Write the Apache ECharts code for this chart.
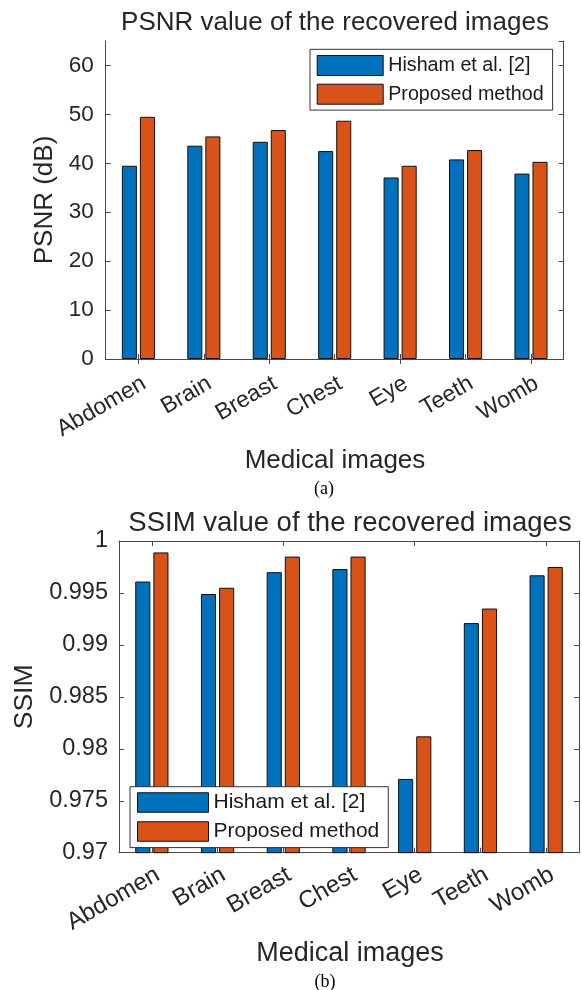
<!DOCTYPE html>
<html><head><meta charset="utf-8">
<script src="https://cdn.jsdelivr.net/npm/echarts@6/dist/echarts.min.js"></script>
<style>html,body{margin:0;padding:0;background:#fff}#c{width:582px;height:990px}</style>
</head><body><div id="c"></div>
<script>
const categories = ['Abdomen', 'Brain', 'Breast', 'Chest', 'Eye', 'Teeth', 'Womb'];
const seriesNames = ['Hisham et al. [2]', 'Proposed method'];
const psnrHisham = [39.5, 43.6, 44.4, 42.5, 37.1, 40.8, 37.9];
const psnrProposed = [49.5, 45.5, 46.8, 48.7, 39.5, 42.7, 40.3];
const ssimHisham = [0.9961, 0.9949, 0.9970, 0.9973, 0.9771, 0.9921, 0.9967];
const ssimProposed = [0.9989, 0.9955, 0.9985, 0.9985, 0.9812, 0.9935, 0.9975];
const psnrTicks = [0, 10, 20, 30, 40, 50, 60];
const psnrMax = 65;
const ssimTicks = [0.97, 0.975, 0.98, 0.985, 0.99, 0.995, 1];

const FONT = 'Arial, "Liberation Sans", sans-serif';
const SERIF = '"Liberation Serif", "Times New Roman", serif';
const TXT = '#262626';
const AX = '#4a4a4a';
const BLUE = '#0072BD';
const ORANGE = '#D95319';

function catAxis(grid, pos, show, fs, margin) {
  return {
    type: 'category', gridIndex: grid, position: pos, data: categories,
    boundaryGap: true,
    axisLine: {show: true, lineStyle: {color: AX, width: 1}},
    axisTick: {show: true, inside: true, length: 5, alignWithLabel: true, lineStyle: {color: AX}},
    axisLabel: show ? {
      show: true, rotate: 30, interval: 0, margin: margin, fontSize: fs, fontFamily: FONT, color: TXT,
      align: 'right', verticalAlign: 'top'
    } : {show: false},
    splitLine: {show: false}
  };
}
function valAxis(grid, pos, ticks, max, show, name, nameGap, fs, margin, nameFs) {
  const step = +(ticks[1] - ticks[0]).toFixed(6);
  return {
    type: 'value', gridIndex: grid, position: pos,
    min: ticks[0], max: max, interval: step,
    name: show ? name : '', nameLocation: 'middle', nameGap: nameGap,
    nameTextStyle: {fontSize: nameFs, fontFamily: FONT, color: TXT},
    axisLine: {show: true, lineStyle: {color: AX, width: 1}},
    axisTick: {show: true, inside: true, length: 5, lineStyle: {color: AX}},
    axisLabel: show ? {
      show: true, fontSize: fs, fontFamily: FONT, color: TXT, margin: margin,
      showMaxLabel: max === ticks[ticks.length - 1],
      formatter: v => String(parseFloat((+v).toFixed(4)))
    } : {show: false},
    splitLine: {show: false}
  };
}
function bar(name, data, color, xi, yi) {
  return {
    type: 'bar', name: name, data: data, xAxisIndex: xi, yAxisIndex: yi,
    barWidth: '23%', barGap: '20%',
    itemStyle: {color: color, borderColor: '#111', borderWidth: 1},
    emphasis: {disabled: true}, animation: false
  };
}
function legend(left, top, fs, iw, ih, gap, pad) {
  return {
    data: seriesNames, orient: 'vertical', left: left, top: top,
    itemWidth: iw, itemHeight: ih, itemGap: gap, padding: pad,
    icon: 'rect', selectedMode: false,
    backgroundColor: '#fff', borderColor: '#333', borderWidth: 1,
    itemStyle: {borderColor: '#111', borderWidth: 1},
    textStyle: {fontSize: fs, fontFamily: FONT, color: '#1a1a1a'}
  };
}

const chart = echarts.init(document.getElementById('c'), null, {renderer: 'canvas'});
chart.setOption({
  animation: false,
  backgroundColor: '#fff',
  grid: [
    {left: 105.7, top: 41, width: 458, height: 318},
    {left: 119, top: 541, width: 460, height: 311.7}
  ],
  xAxis: [
    catAxis(0, 'bottom', true, 23, 13), catAxis(0, 'top', false),
    catAxis(1, 'bottom', true, 24, 10), catAxis(1, 'top', false)
  ],
  yAxis: [
    valAxis(0, 'left', psnrTicks, psnrMax, true, 'PSNR (dB)', 43, 22.5, 12, 26),
    valAxis(0, 'right', psnrTicks, psnrMax, false),
    valAxis(1, 'left', ssimTicks, ssimTicks[ssimTicks.length - 1], true, 'SSIM', 79.5, 23.5, 11, 26.5),
    valAxis(1, 'right', ssimTicks, ssimTicks[ssimTicks.length - 1], false)
  ],
  legend: [
    legend(310, 49.3, 19.7, 66, 20, 7.7, [5.7, 9, 5.4, 6.7]),
    legend(130, 786.7, 21, 71, 19.5, 8, [5.3, 9, 5.6, 7])
  ],
  series: [
    bar(seriesNames[0], psnrHisham, BLUE, 0, 0),
    bar(seriesNames[1], psnrProposed, ORANGE, 0, 0),
    bar(seriesNames[0], ssimHisham, BLUE, 2, 2),
    bar(seriesNames[1], ssimProposed, ORANGE, 2, 2)
  ],
  graphic: [
    {type: 'text', x: 335, y: 23, style: {text: 'PSNR value of the recovered images', font: '26px ' + FONT, fill: TXT, textAlign: 'center', textVerticalAlign: 'middle'}},
    {type: 'text', x: 335, y: 461, style: {text: 'Medical images', font: '26px ' + FONT, fill: TXT, textAlign: 'center', textVerticalAlign: 'middle'}},
    {type: 'text', x: 324, y: 489, style: {text: '(a)', font: '18px ' + SERIF, fill: '#000', textAlign: 'center', textVerticalAlign: 'middle'}},
    {type: 'text', x: 350, y: 523, style: {text: 'SSIM value of the recovered images', font: '27.5px ' + FONT, fill: TXT, textAlign: 'center', textVerticalAlign: 'middle'}},
    {type: 'text', x: 350, y: 954, style: {text: 'Medical images', font: '27px ' + FONT, fill: TXT, textAlign: 'center', textVerticalAlign: 'middle'}},
    {type: 'text', x: 325, y: 982, style: {text: '(b)', font: '18px ' + SERIF, fill: '#000', textAlign: 'center', textVerticalAlign: 'middle'}}
  ]
});
</script></body></html>
